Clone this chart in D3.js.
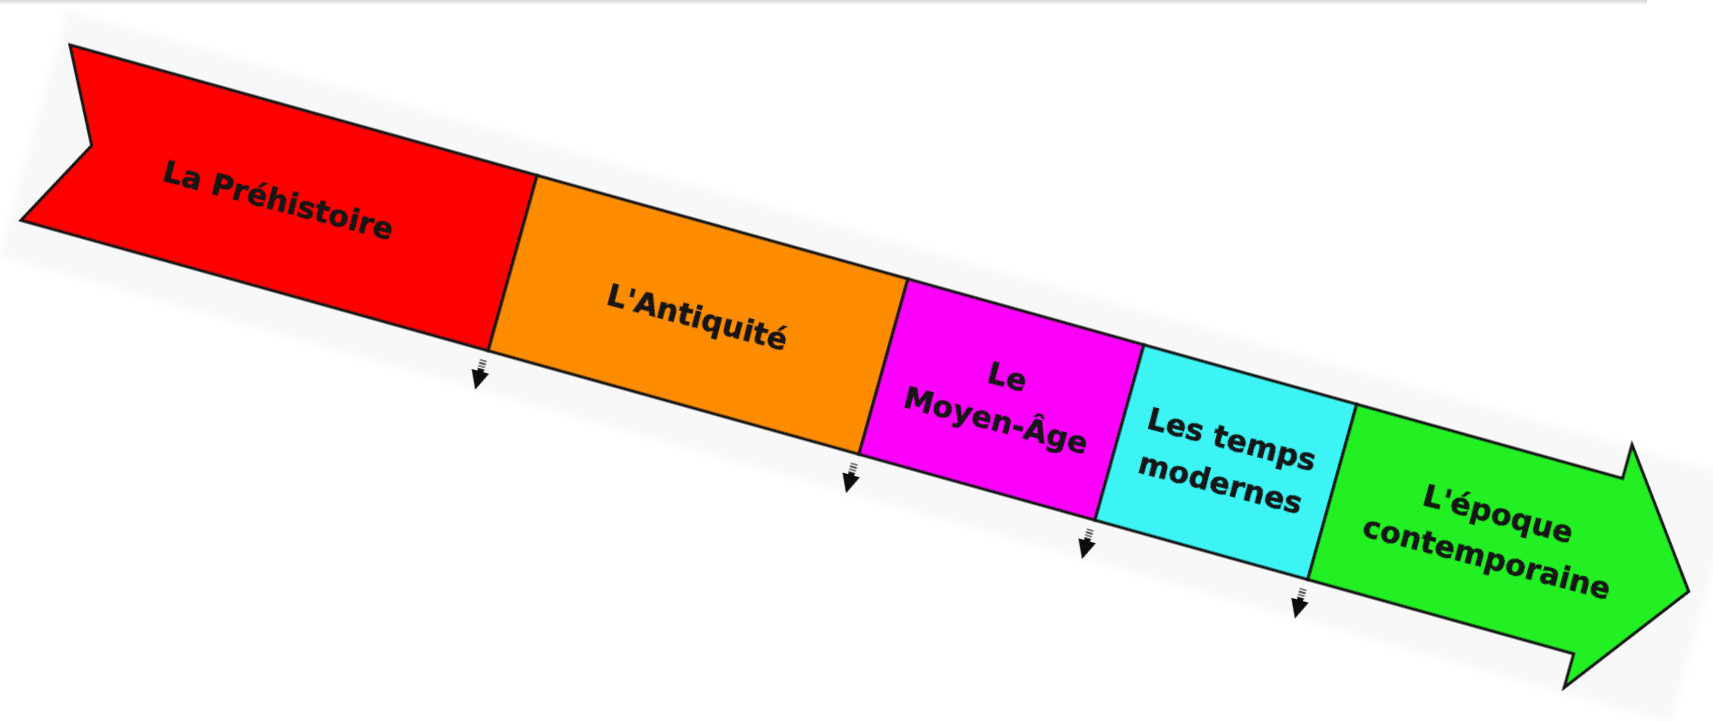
<!DOCTYPE html>
<html>
<head>
<meta charset="utf-8">
<script src="https://cdn.jsdelivr.net/npm/d3@7"></script>
<style>
  body { margin: 0; background: #fff; }
  svg { display: block; }
</style>
</head>
<body>
<div id="timeline"></div>
<script>
// periods of history, left to right
var periods = ["La Préhistoire", "L'Antiquité", "Le Moyen-Âge", "Les temps modernes", "L'époque contemporaine"];
var labelLines = [
  ["La Préhistoire"],
  ["L'Antiquité"],
  ["Le", "Moyen-Âge"],
  ["Les temps", "modernes"],
  ["L'époque", "contemporaine"]
];
// boundaries between periods (index 0 = start of the arrow, 5 = end)
var boundaries = [0, 1, 2, 3, 4, 5];
var transitions = [1, 2, 3, 4];

var svgWidth = 1713;
var svgHeight = 721;

// the whole arrow is drawn in a rotated frame
var origin = [70, 45];
var angle = 15.6;
var bandHeight = 182;
var tailNotch = 48;
var headLength = 94;
var headOverhang = 35;

var xScale = d3.scaleLinear()
  .domain(boundaries)
  .range([0, 485, 870, 1115, 1336, 1612]);

var colorScale = d3.scaleOrdinal()
  .domain(periods)
  .range(["#fe0000", "#fd8c00", "#fd00fd", "#3ef4f4", "#22f022"]);

var svg = d3
  .select("#timeline")
  .append("svg")
  .attr("width", svgWidth)
  .attr("height", svgHeight);

var defs = svg.append("defs");

var topShade = defs.append("linearGradient")
  .attr("id", "topShade")
  .attr("x1", 0).attr("y1", 0)
  .attr("x2", 0).attr("y2", 1);
topShade.append("stop").attr("offset", "0%").attr("stop-color", "#d6d6d6");
topShade.append("stop").attr("offset", "100%").attr("stop-color", "#ffffff");

defs.append("filter")
  .attr("id", "soft")
  .append("feGaussianBlur")
  .attr("stdDeviation", 0.6);

defs.append("filter")
  .attr("id", "softer")
  .append("feGaussianBlur")
  .attr("stdDeviation", 4);

// thin shadow along the top of the page
svg.append("rect")
  .attr("x", 0)
  .attr("y", 0)
  .attr("width", 1647)
  .attr("height", 5)
  .attr("fill", "url(#topShade)");

var chartGroup = svg.append("g")
  .attr("transform", `translate(${origin[0]}, ${origin[1]}) rotate(${angle})`);

// light paper behind the arrow
chartGroup.append("rect")
  .attr("x", -12)
  .attr("y", -32)
  .attr("width", xScale(5) + headLength + 30)
  .attr("height", bandHeight + 32 + 40)
  .attr("fill", "#f8f8f8")
  .attr("filter", "url(#softer)");

var arrowGroup = chartGroup.append("g")
  .attr("filter", "url(#soft)");

function segmentPoints(i) {
  var x0 = xScale(i);
  var x1 = xScale(i + 1);
  var h = bandHeight;
  if (i == 0) {
    return [[x0, 0], [x1, 0], [x1, h], [x0, h], [x0 + tailNotch, h / 2]];
  }
  if (i == periods.length - 1) {
    return [[x0, 0], [x1, 0], [x1, -headOverhang], [x1 + headLength, h / 2],
      [x1, h + headOverhang], [x1, h], [x0, h]];
  }
  return [[x0, 0], [x1, 0], [x1, h], [x0, h]];
}

arrowGroup.selectAll("polygon.period")
  .data(periods)
  .enter()
  .append("polygon")
  .attr("class", "period")
  .attr("points", (d, i) => segmentPoints(i).map(p => p.join(",")).join(" "))
  .attr("fill", d => colorScale(d))
  .attr("stroke", "#121212")
  .attr("stroke-width", 3)
  .attr("stroke-linejoin", "miter");

// small arrows under each change of period
var marks = arrowGroup.selectAll("g.mark")
  .data(transitions)
  .enter()
  .append("g")
  .attr("class", "mark")
  .attr("transform", d => `translate(${xScale(d) - 2}, ${bandHeight})`);

marks.each(function () {
  var g = d3.select(this);
  d3.range(4).forEach(k => {
    g.append("rect")
      .attr("x", -3.5)
      .attr("y", 10 + k * 3)
      .attr("width", 7)
      .attr("height", 1.8)
      .attr("fill", k % 2 ? "#444" : "#777");
  });
  g.append("path")
    .attr("d", "M-9,22 L9,22 L0,41 Z")
    .attr("fill", "#0e0e0e");
  g.append("rect")
    .attr("x", -3)
    .attr("y", 20)
    .attr("width", 6)
    .attr("height", 4)
    .attr("fill", "#0e0e0e");
});

// period names
function labelCenter(i) {
  if (i == periods.length - 1) {
    return (xScale(i) + xScale(i + 1) + headLength * 0.6) / 2;
  }
  return (xScale(i) + xScale(i + 1)) / 2;
}

var labels = arrowGroup.selectAll("g.label")
  .data(periods)
  .enter()
  .append("g")
  .attr("class", "label")
  .attr("transform", (d, i) => `translate(${labelCenter(i)}, ${bandHeight / 2}) rotate(-1)`);

labels.each(function (d, i) {
  var lines = labelLines[i];
  var baselines = lines.length == 1 ? [13] : [-13, 32];
  d3.select(this).selectAll("text")
    .data(lines)
    .enter()
    .append("text")
    .attr("x", 0)
    .attr("y", (t, j) => baselines[j])
    .attr("text-anchor", "middle")
    .style("font-family", "'DejaVu Sans', sans-serif")
    .style("font-weight", "bold")
    .style("font-size", "30px")
    .style("fill", "#141414")
    .style("stroke", "#141414")
    .style("stroke-width", 0.7)
    .text(t => t);
});
</script>
</body>
</html>
